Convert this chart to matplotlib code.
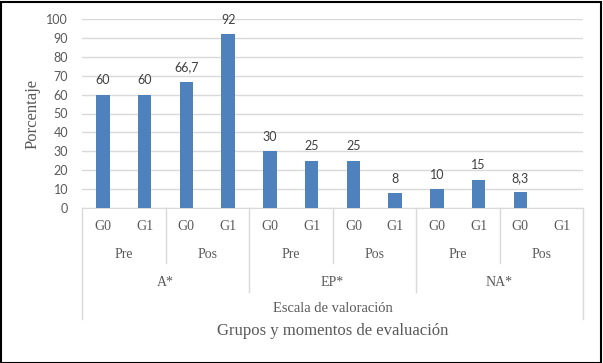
import matplotlib
matplotlib.use("Agg")
import matplotlib.pyplot as plt
from matplotlib.transforms import blended_transform_factory
from matplotlib.lines import Line2D
from matplotlib.patches import Rectangle

groups = ["G0", "G1"] * 6
moments = ["Pre", "Pos", "Pre", "Pos", "Pre", "Pos"]
scales = ["A*", "EP*", "NA*"]
values = [60, 60, 66.7, 92, 30, 25, 25, 8, 10, 15, 8.3, 0]
labels = ["60", "60", "66,7", "92", "30", "25", "25", "8", "10", "15", "8,3", ""]
yticks = [0, 10, 20, 30, 40, 50, 60, 70, 80, 90, 100]

W, H = 603, 363
fig = plt.figure(figsize=(W / 100, H / 100), dpi=100)
ax = fig.add_axes([82 / W, 1 - 208 / H, (583 - 82) / W, (208 - 19) / H])

gray_txt = "#595959"
grid_c = "#D9D9D9"
serif = "Liberation Serif"
sans = "Lato"

x = list(range(len(values)))
ax.bar(x, values, width=0.32, color="#4F81BD", zorder=3)
for xi, v, lab in zip(x, values, labels):
    if lab:
        ax.annotate(lab, (xi, v), xytext=(0, 6), textcoords="offset points",
                    ha="center", va="bottom", fontsize=9, color="#404040",
                    family=sans)

ax.set_xlim(-0.5, len(values) - 0.5)
ax.set_ylim(0, 100)
ax.set_yticks(yticks)
ax.set_yticklabels([str(t) for t in yticks], fontsize=9, color=gray_txt, family=sans)
ax.tick_params(axis="y", length=0, pad=10)
ax.set_xticks([])
ax.grid(axis="y", color=grid_c, linewidth=1, zorder=0)
for s in ["top", "right", "left"]:
    ax.spines[s].set_visible(False)
ax.spines["bottom"].set_color(grid_c)
ax.set_ylabel("Porcentaje", fontsize=12, color=gray_txt, family=serif)
ax.yaxis.set_label_coords((33 - 82) / (583 - 82), 0.5)
ax.yaxis.label.set_va("center")

tr = blended_transform_factory(ax.transData, fig.transFigure)

def fy(py):
    return 1 - py / H

# level 1: groups
for xi, g in zip(x, groups):
    ax.text(xi, fy(227), g, transform=tr, ha="center", va="center",
            fontsize=10, color=gray_txt, family=serif)
# level 2: moments
for i, m in enumerate(moments):
    ax.text(2 * i + 0.5, fy(254), m, transform=tr, ha="center", va="center",
            fontsize=10, color=gray_txt, family=serif)
# level 3: scales
for i, s in enumerate(scales):
    ax.text(4 * i + 1.5, fy(282), s, transform=tr, ha="center", va="center",
            fontsize=10, color=gray_txt, family=serif)
# level 4
ax.text((len(values) - 1) / 2, fy(309), "Escala de valoración", transform=tr,
        ha="center", va="center", fontsize=10.5, color=gray_txt, family=serif)
ax.text((len(values) - 1) / 2, fy(331), "Grupos y momentos de evaluación",
        transform=tr, ha="center", va="center", fontsize=12, color=gray_txt,
        family=serif)

# separators
n = len(values)
for b in range(0, n + 1, 2):
    xb = b - 0.5
    if b == 0 or b == n:
        bottom = 319
    elif b % 4 == 0:
        bottom = 292
    else:
        bottom = 263
    fig.add_artist(Line2D([xb, xb], [fy(208), fy(bottom)], transform=tr,
                          color=grid_c, linewidth=1))

# outer frame
fig.add_artist(Rectangle((0.5 / W, 0.5 / H), 1 - 2.5 / W, 1 - 2.5 / H,
                         transform=fig.transFigure, fill=False,
                         edgecolor="#000000", linewidth=1.5))

fig.savefig("out.png", dpi=100)
